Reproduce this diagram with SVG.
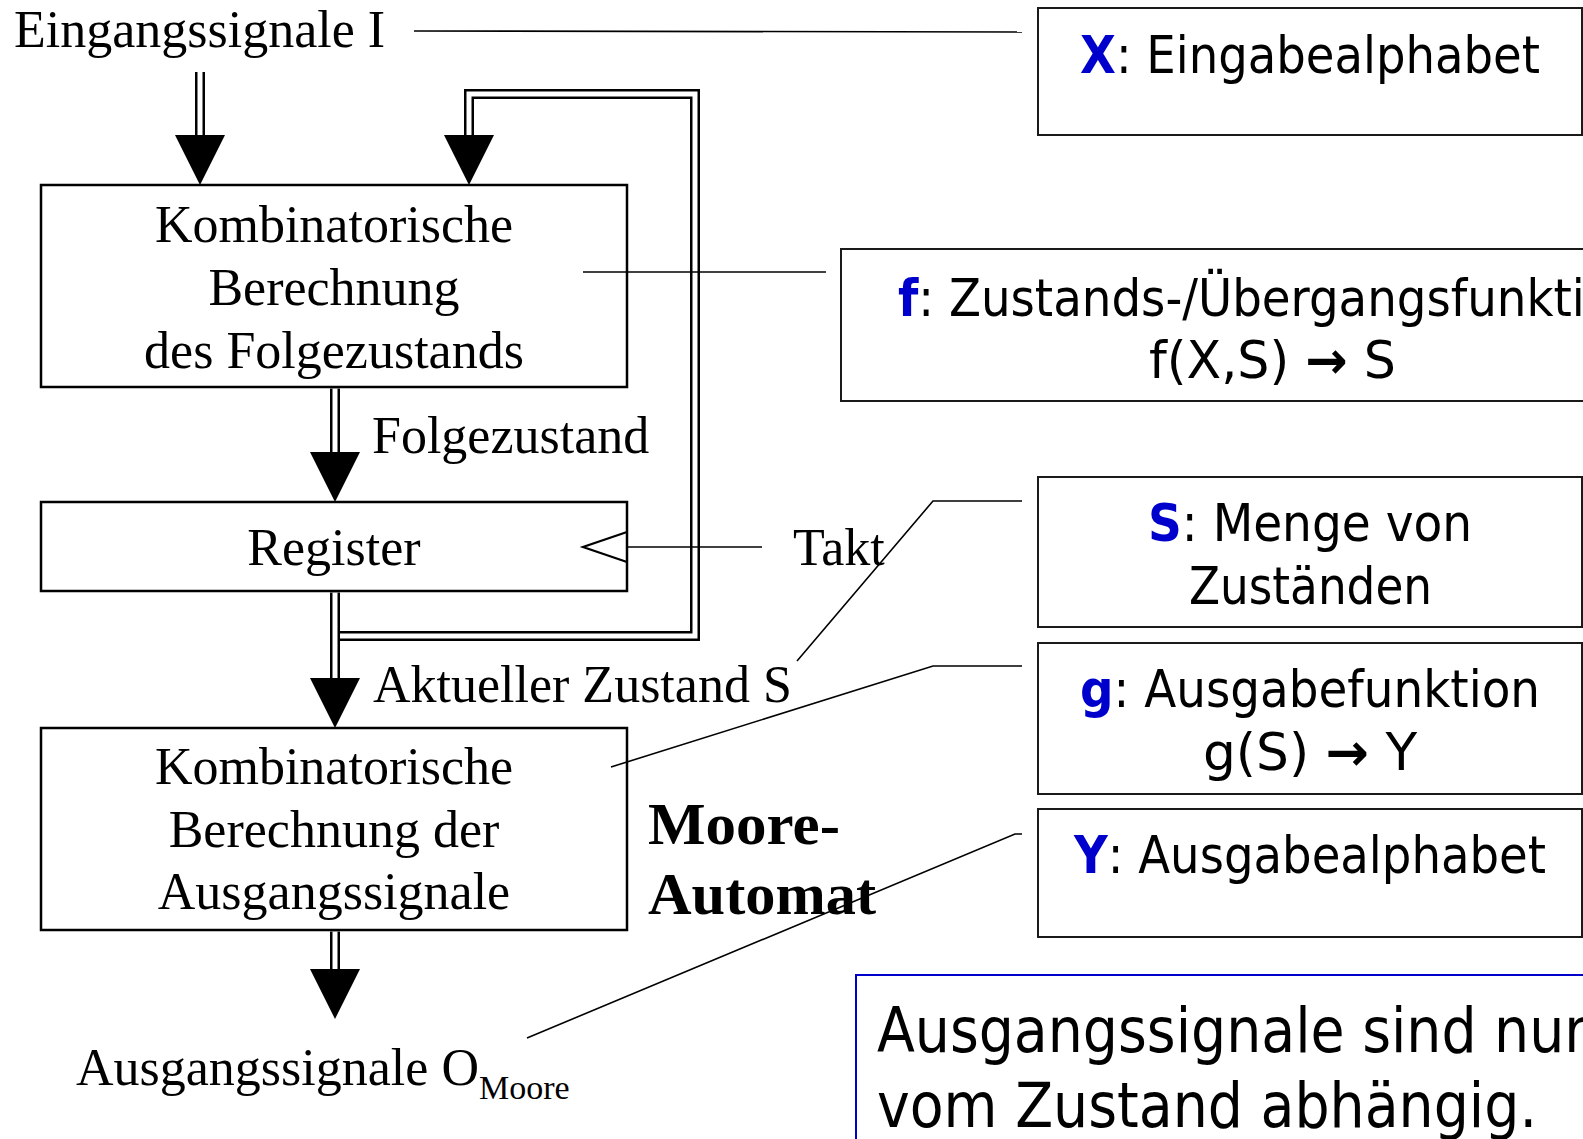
<svg xmlns="http://www.w3.org/2000/svg" width="1583" height="1139" viewBox="0 0 1583 1139">
  <style>
    .serif{font-family:"Liberation Serif","Times New Roman",serif;font-size:52px;fill:#000}
    .title{font-weight:bold;font-size:60px}
    .mid{text-anchor:middle}
    .sans{font-family:"DejaVu Sans Condensed","DejaVu Sans",sans-serif;font-stretch:condensed;font-size:52px;fill:#000}
    .big{font-size:63px}
    .key{fill:#0000cc;font-weight:bold}
    .arrow{font-weight:bold}
    .box{fill:none;stroke:#000;stroke-width:2.5}
    .note{fill:none;stroke:#1a1a1a;stroke-width:2}
    .hint{fill:none;stroke:#0000cc;stroke-width:2}
    .callout{fill:none;stroke:#000;stroke-width:1.6}
    .bus{fill:none;stroke:#000;stroke-width:10;stroke-linejoin:miter}
    .bus-core{fill:none;stroke:#fff;stroke-width:5;stroke-linejoin:miter}
    .head{fill:#000}
  </style>
  <defs>
    <!-- filled arrowhead, tip 50px below the anchor point -->
    <path id="arrowhead" class="head" d="M-25,0 H25 L0,50 Z"/>
  </defs>

  <rect width="1583" height="1139" fill="#fff"/>

  <!-- connectors: double-line buses, clock line and callout lines -->
  <g id="connectors">
    <path class="bus" d="M200,72 V136"/>
    <path class="bus-core" d="M200,72 V136"/>
    <path class="bus" d="M339,636 H695 V94 H469 V136"/>
    <path class="bus-core" d="M339,636 H695 V94 H469 V136"/>
    <path class="bus" d="M335,388.5 V453"/>
    <path class="bus-core" d="M335,388.5 V453"/>
    <path class="bus" d="M335,592.5 V678"/>
    <path class="bus-core" d="M335,592.5 V678"/>
    <path class="bus" d="M335,931.5 V970"/>
    <path class="bus-core" d="M335,931.5 V970"/>

    <use href="#arrowhead" x="200" y="135"/>
    <use href="#arrowhead" x="469" y="135"/>
    <use href="#arrowhead" x="335" y="452"/>
    <use href="#arrowhead" x="335" y="678"/>
    <use href="#arrowhead" x="335" y="969"/>

    <path class="callout" d="M627,547 H762" stroke-width="2"/>

    <path class="callout" d="M414,31 L1022,32"/>
    <path class="callout" d="M583,272 H826"/>
    <path class="callout" d="M797,661 L933,501 H1022"/>
    <path class="callout" d="M611,767 L933,666 H1022"/>
    <path class="callout" d="M527,1038 L1015,834 H1022"/>
  </g>

  <!-- Moore machine block diagram -->
  <g id="input-label">
    <text class="serif" x="14" y="47">Eingangssignale I</text>
  </g>

  <g id="next-state-logic">
    <rect class="box" x="41" y="185" width="586" height="202"/>
    <text class="serif mid" x="334" y="242">Kombinatorische</text>
    <text class="serif mid" x="334" y="305">Berechnung</text>
    <text class="serif mid" x="334" y="368">des Folgezustands</text>
  </g>

  <g id="next-state-label">
    <text class="serif" x="372" y="453">Folgezustand</text>
  </g>

  <g id="register">
    <rect class="box" x="41" y="502" width="586" height="89"/>
    <text class="serif mid" x="334" y="565">Register</text>
    <polyline fill="none" stroke="#000" stroke-width="2.2" points="627,532 583,547 627,562"/>
  </g>

  <g id="clock-label">
    <text class="serif" x="793" y="565" fill="#1a1a1a">Takt</text>
  </g>

  <g id="state-label">
    <text class="serif" x="373" y="702">Aktueller Zustand S</text>
  </g>

  <g id="output-logic">
    <rect class="box" x="41" y="728" width="586" height="202"/>
    <text class="serif mid" x="334" y="784">Kombinatorische</text>
    <text class="serif mid" x="334" y="847">Berechnung der</text>
    <text class="serif mid" x="334" y="909">Ausgangssignale</text>
  </g>

  <g id="machine-title">
    <text class="serif title" x="648" y="844" textLength="192" lengthAdjust="spacingAndGlyphs">Moore-</text>
    <text class="serif title" x="648" y="914" textLength="228" lengthAdjust="spacingAndGlyphs">Automat</text>
  </g>

  <g id="output-label">
    <text class="serif" x="76" y="1085">Ausgangssignale O<tspan x="479" dy="14" font-size="34">Moore</tspan></text>
  </g>

  <!-- definition boxes -->
  <g id="def-x">
    <rect class="note" x="1038" y="8" width="544" height="127"/>
    <text class="sans" x="1080" y="73" textLength="460" lengthAdjust="spacingAndGlyphs"><tspan class="key">X</tspan>: Eingabealphabet</text>
  </g>

  <g id="def-f">
    <rect class="note" x="841" y="249" width="870" height="152"/>
    <text class="sans" x="898" y="316" textLength="745" lengthAdjust="spacingAndGlyphs"><tspan class="key">f</tspan>: Zustands-/Übergangsfunktion</text>
    <text class="sans" x="1149" y="378" textLength="247" lengthAdjust="spacingAndGlyphs">f(X,S) <tspan class="arrow">→</tspan> S</text>
  </g>

  <g id="def-s">
    <rect class="note" x="1038" y="477" width="544" height="150"/>
    <text class="sans" x="1148" y="541" textLength="324" lengthAdjust="spacingAndGlyphs"><tspan class="key">S</tspan>: Menge von</text>
    <text class="sans" x="1189" y="604" textLength="243" lengthAdjust="spacingAndGlyphs">Zuständen</text>
  </g>

  <g id="def-g">
    <rect class="note" x="1038" y="643" width="544" height="151"/>
    <text class="sans" x="1080" y="707" textLength="460" lengthAdjust="spacingAndGlyphs"><tspan class="key">g</tspan>: Ausgabefunktion</text>
    <text class="sans" x="1203" y="770" textLength="214" lengthAdjust="spacingAndGlyphs">g(S) <tspan class="arrow">→</tspan> Y</text>
  </g>

  <g id="def-y">
    <rect class="note" x="1038" y="809" width="544" height="128"/>
    <text class="sans" x="1074" y="873" textLength="472" lengthAdjust="spacingAndGlyphs"><tspan class="key">Y</tspan>: Ausgabealphabet</text>
  </g>

  <g id="remark">
    <rect class="hint" x="856" y="975" width="780" height="220"/>
    <text class="sans big" x="877" y="1052" textLength="710" lengthAdjust="spacingAndGlyphs">Ausgangssignale sind nur</text>
    <text class="sans big" x="877" y="1127" textLength="660" lengthAdjust="spacingAndGlyphs">vom Zustand abhängig.</text>
  </g>
</svg>
